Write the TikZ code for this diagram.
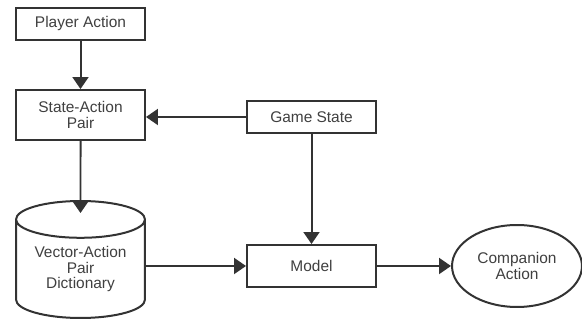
\documentclass[tikz,border=0pt]{standalone}
\usepackage{fontspec}
\setmainfont{Liberation Sans}
\usetikzlibrary{arrows.meta,calc,shapes.geometric}
\tikzset{
  box/.style={draw=black!80, line width=0.04cm, fill=white, text=black!75,
    minimum width=2.58cm, align=center, inner sep=0pt,
    font=\fontsize{8.8}{8.8}\selectfont},
  flow/.style={draw=black!80, line width=0.04cm,
    -{Triangle[length=0.24cm, width=0.32cm]}}
}

\begin{document}
\begin{tikzpicture}[x=0.02cm, y=-0.02cm]
  %%%%% START %%%%%
  \useasboundingbox (0,0) rectangle (582,320);

  \node[box, minimum height=0.64cm] (pa) at (80.5,24) {Player Action};
  \node[box, minimum height=1.0cm] (sa) at (80.5,115) {State-Action\\Pair};
  \node[box, minimum height=0.64cm] (gs) at (311.5,117) {Game State};
  \node[box, minimum height=0.84cm] (mdl) at (311.5,266) {Model};

  \node[box, cylinder, shape border rotate=90, aspect=0.4,
        minimum height=2.34cm, minimum width=2.58cm, anchor=shape center]
        (dict) at (80.5,259.5) {Vector-Action\\Pair\\Dictionary};
  \node[box, ellipse, minimum width=2.6cm, minimum height=1.64cm] (ca)
        at (517,266) {Companion\\Action};

  \draw[flow] (pa) -- (sa);
  \draw[flow] (gs) -- (gs -| sa.east);
  \draw[flow] (sa) -- ($(dict.north)+(0,13)$);
  \draw[flow] (gs) -- (mdl);
  \draw[flow] (dict.east |- mdl) -- (mdl);
  \draw[flow] (mdl) -- (ca);

  %%%%% END %%%%%
\end{tikzpicture}
\end{document}
